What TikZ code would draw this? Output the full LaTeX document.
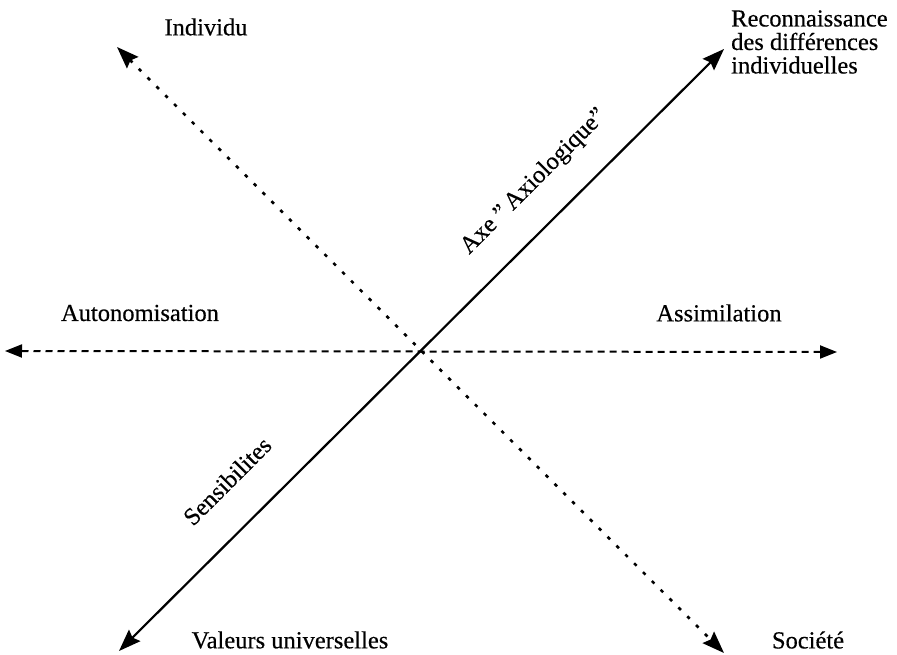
\documentclass[tikz,border=0pt]{standalone}
\usepackage{fontspec}
\setmainfont{Liberation Serif}[FakeBold=0.4]
\usetikzlibrary{arrows.meta}
\begin{document}
\begin{tikzpicture}[x=1pt,y=-1pt,
  lbl/.style={font=\fontsize{24.5}{23.5}\selectfont, inner sep=0pt},
  bitip/.style={{Stealth[length=22pt,width=16pt,inset=3pt]}-{Stealth[length=22pt,width=16pt,inset=3pt]}},
  htip/.style={{Triangle[length=17pt,width=13pt]}-{Triangle[length=17pt,width=13pt]}},
  dotline/.style={line width=2.6pt, dash pattern=on 3.5pt off 9pt},
  dashline/.style={line width=2pt, dash pattern=on 7pt off 5pt},
  solidline/.style={line width=2.2pt}]
\useasboundingbox (0,0) rectangle (897,655);

% free ends of the three axes
\coordinate (indtip)   at (117,47);
\coordinate (soctip)   at (724,653);
\coordinate (autotip)  at (5,351);
\coordinate (assimtip) at (837,352);
\coordinate (valtip)   at (119,651);
\coordinate (recontip) at (724,49);

% axes
\draw[dotline, bitip] (indtip) -- (soctip);
\draw[dashline, htip] (autotip) -- (assimtip);
\draw[solidline, bitip] (valtip) -- (recontip);

% pole labels
\node[lbl] (individu) at (206,27) {Individu};
\node[lbl, anchor=west, align=left] (recon) at (731,42) {Reconnaissance\\des différences\\individuelles};
\node[lbl] (autonom) at (140,313) {Autonomisation};
\node[lbl] (assim) at (719,313) {Assimilation};
\node[lbl] (valeurs) at (290,640) {Valeurs universelles};
\node[lbl] (societe) at (808,640) {Société};

% labels along the solid axis
\node[lbl, rotate=45, anchor=base west] (axe) at (469,255) {Axe~''\,Axiologique''};
\node[lbl, rotate=45, anchor=base west] (sensib) at (193,527) {Sensibilites};
\end{tikzpicture}
\end{document}
